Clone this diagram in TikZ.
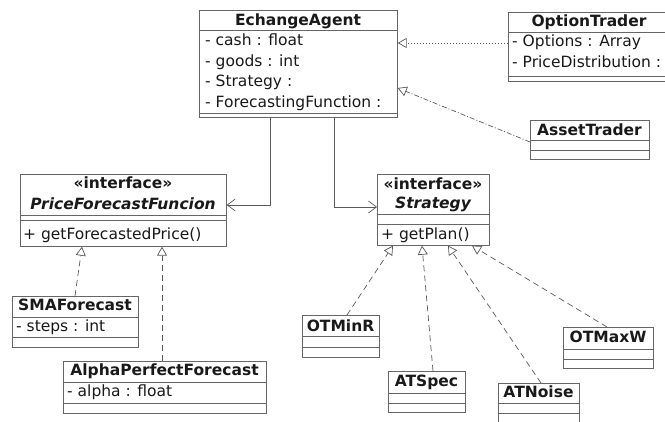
\documentclass[tikz,border=0pt]{standalone}
\usepackage{fontspec}
\setmainfont{DejaVu Sans}[BoldFont={DejaVu Sans Bold},ItalicFont={DejaVu Sans Oblique},BoldItalicFont={DejaVu Sans Bold Oblique}]
\usetikzlibrary{arrows.meta}
\tikzset{
  cls/.style={draw=black!60, line width=0.7pt, fill=white, inner sep=0pt, anchor=north west},
  sepline/.style={draw=black!60, line width=0.7pt},
  txt/.style={font=\fontsize{15.5}{18}\selectfont, inner sep=0pt, text=black!90},
  ttl/.style={txt, font=\fontsize{15.5}{18}\selectfont\bfseries, anchor=base},
  attr/.style={txt, anchor=base west},
  conn/.style={draw=black!65, line width=0.7pt},
  realize/.style={conn, dash pattern=on 6pt off 4pt, -{Triangle[open, length=9pt, width=10pt, fill=white]}},
  dotreal/.style={conn, dash pattern=on 1.5pt off 1.5pt, -{Triangle[open, length=9pt, width=10pt, fill=white]}},
  assoc/.style={conn, -{Straight Barb[length=8pt, width=12pt]}},
}
\begin{document}
\begin{tikzpicture}[x=1pt,y=-1pt]
\useasboundingbox (0,0) rectangle (665,422);
% EchangeAgent
\node[cls, minimum width=198pt, minimum height=107pt] (ea) at (199,10) {};
\draw[sepline] (199,30) -- (397,30);
\draw[sepline] (199,113) -- (397,113);
\node[ttl] (eat) at (298,26) {EchangeAgent};
\node[attr] (ea1) at (205,46) {- cash : float};
\node[attr] (ea2) at (205,66.5) {- goods : int};
\node[attr] (ea3) at (205,87) {- Strategy :};
\node[attr] (ea4) at (205,107.5) {- ForecastingFunction :};
% OptionTrader
\node[cls, minimum width=162pt, minimum height=69pt] (ot) at (508,12) {};
\draw[sepline] (508,32) -- (670,32);
\draw[sepline] (508,76) -- (670,76);
\node[ttl] (ott) at (589,27) {OptionTrader};
\node[attr] (ot1) at (512,47) {- Options : Array};
\node[attr] (ot2) at (512,68) {- PriceDistribution :};
% AssetTrader
\node[cls, minimum width=119pt, minimum height=39pt] (at) at (530,120) {};
\draw[sepline] (530,140) -- (649,140);
\draw[sepline] (530,150) -- (649,150);
\node[ttl] (att) at (589.5,136) {AssetTrader};
% PriceForecastFuncion
\node[cls, minimum width=206pt, minimum height=72pt] (pff) at (20,174) {};
\draw[sepline] (20,215) -- (226,215);
\draw[sepline] (20,220) -- (226,220);
\node[ttl] (pffs) at (123,189) {«interface»};
\node[ttl, font=\fontsize{15.5}{18}\selectfont\bfseries\itshape] (pfft) at (123,210) {PriceForecastFuncion};
\node[attr] (pff1) at (23,240) {+ getForecastedPrice()};
% Strategy
\node[cls, minimum width=112pt, minimum height=71pt] (st) at (377,174) {};
\draw[sepline] (377,214) -- (489,214);
\draw[sepline] (377,224) -- (489,224);
\node[ttl] (sts) at (433,189.5) {«interface»};
\node[ttl, font=\fontsize{15.5}{18}\selectfont\bfseries\itshape] (stt) at (433,209) {Strategy};
\node[attr] (st1) at (381,240) {+ getPlan()};
% SMAForecast
\node[cls, minimum width=126pt, minimum height=51pt] (sma) at (12,296) {};
\draw[sepline] (12,317) -- (138,317);
\draw[sepline] (12,337) -- (138,337);
\node[ttl] (smat) at (75,311) {SMAForecast};
\node[attr] (sma1) at (16,332) {- steps : int};
% AlphaPerfectForecast
\node[cls, minimum width=203pt, minimum height=52pt] (apf) at (63,361) {};
\draw[sepline] (63,382) -- (266,382);
\draw[sepline] (63,403) -- (266,403);
\node[ttl] (apft) at (164.5,376) {AlphaPerfectForecast};
\node[attr] (apf1) at (67,397) {- alpha : float};
% OTMinR
\node[cls, minimum width=77pt, minimum height=42pt] (omin) at (302,315) {};
\draw[sepline] (302,336) -- (379,336);
\draw[sepline] (302,347) -- (379,347);
\node[ttl] (omint) at (340.5,332) {OTMinR};
% ATSpec
\node[cls, minimum width=77pt, minimum height=41pt] (ats) at (388,371) {};
\draw[sepline] (388,393) -- (465,393);
\draw[sepline] (388,403) -- (465,403);
\node[ttl] (atst) at (426.5,387) {ATSpec};
% ATNoise
\node[cls, minimum width=81pt, minimum height=45pt] (atn) at (498,383) {};
\draw[sepline] (498,403) -- (579,403);
\draw[sepline] (498,413) -- (579,413);
\node[ttl] (atnt) at (538.5,398) {ATNoise};
% OTMaxW
\node[cls, minimum width=90pt, minimum height=41pt] (omax) at (563,327) {};
\draw[sepline] (563,349) -- (653,349);
\draw[sepline] (563,359) -- (653,359);
\node[ttl] (omaxt) at (608,343) {OTMaxW};
% connectors
\draw[dotreal] (ot.west |- 0,43) -- (ea.east |- 0,43);
\draw[realize, dash pattern=on 5pt off 2pt on 1pt off 2pt] (at.west |- 0,142) -- (ea.east |- 0,88);
\draw[assoc] (ea.south -| 270,0) |- (pff.east |- 0,205);
\draw[assoc] (ea.south -| 334,0) |- (st.west |- 0,207);
\draw[realize] (sma.north -| 75,0) -- (pff.south -| 82,0);
\draw[realize] (apf.north -| 162,0) -- (pff.south -| 162,0);
\draw[realize] (omin.north -| 347,0) -- (st.south -| 393,0);
\draw[realize] (ats.north -| 433,0) -- (st.south -| 422,0);
\draw[realize] (atn.north -| 541,0) -- (st.south -| 448,0);
\draw[realize] (omax.north -| 607,0) -- (st.south -| 472,0);
\end{tikzpicture}
\end{document}
